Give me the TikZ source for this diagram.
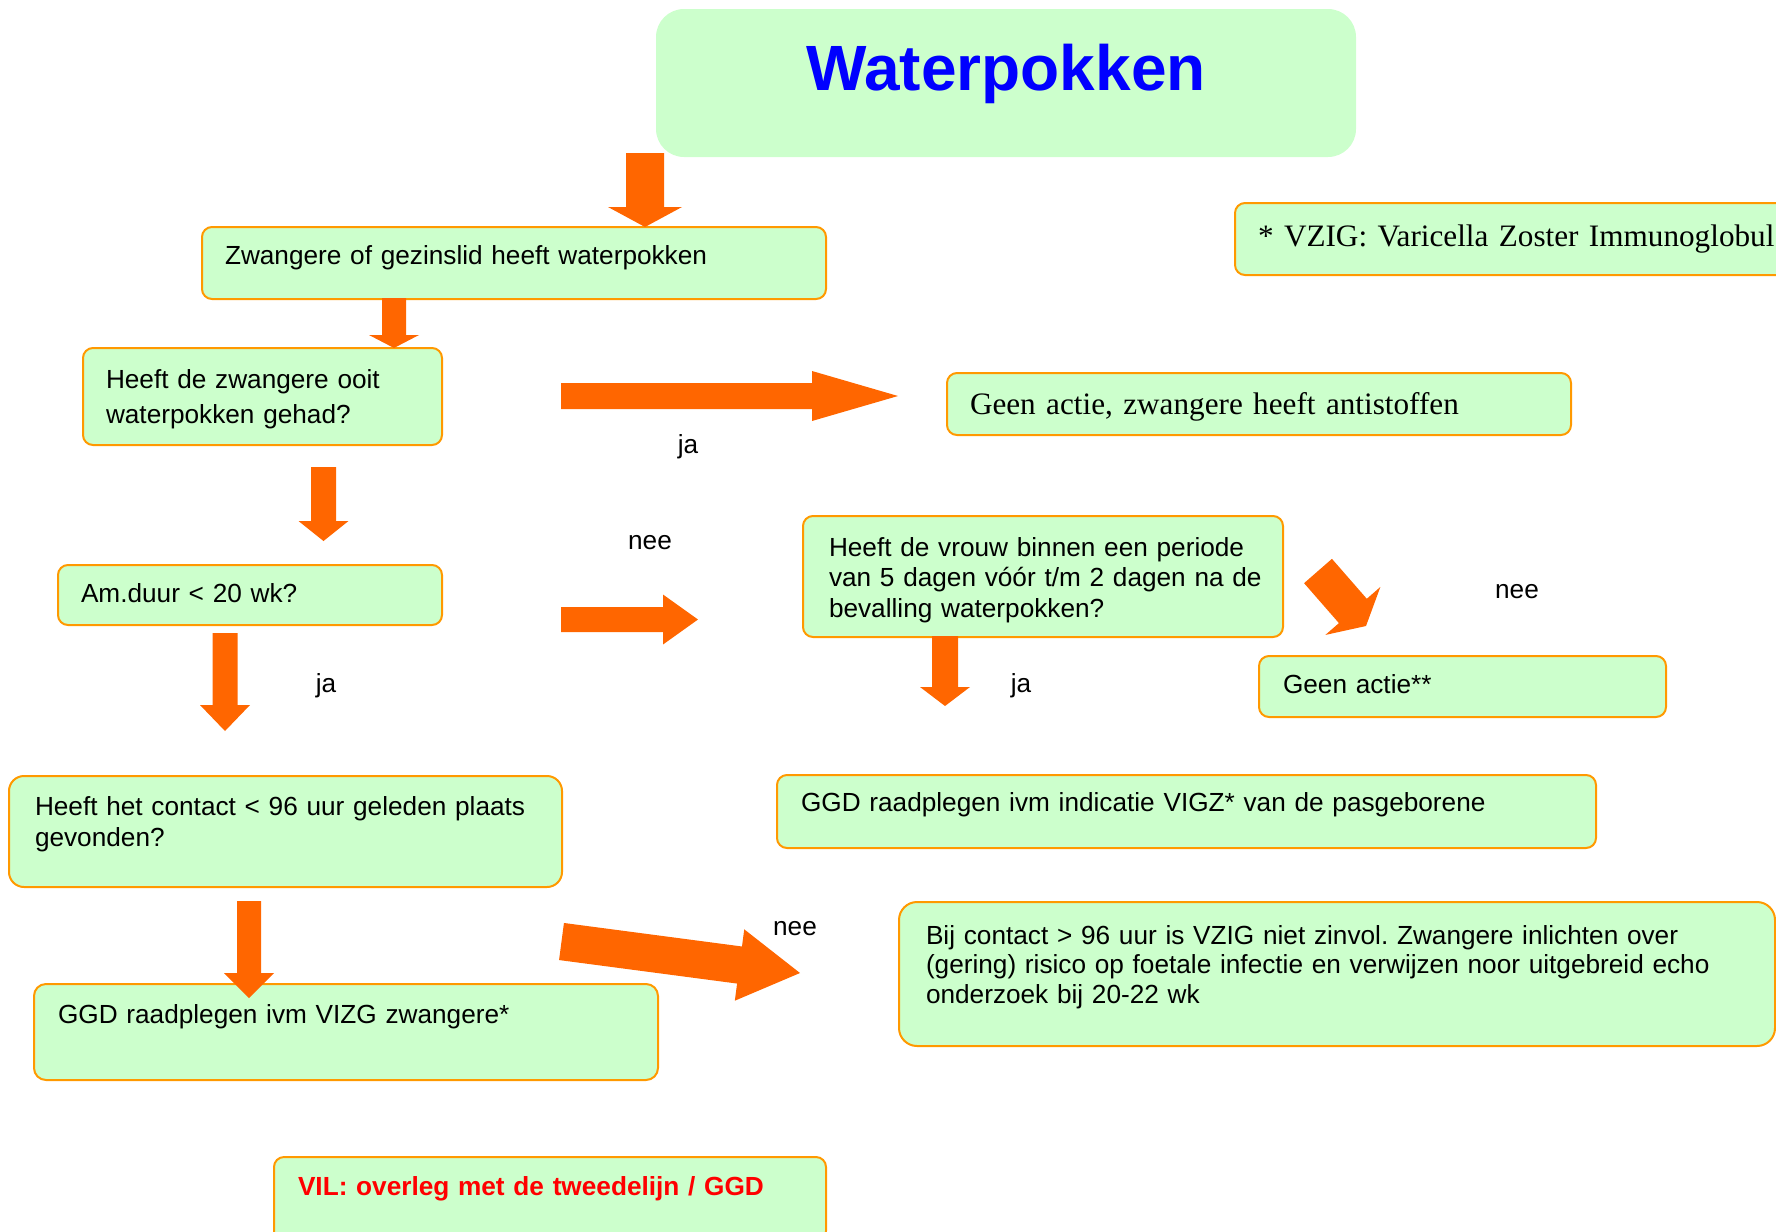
\documentclass[tikz,border=0pt]{standalone}
\usepackage{fontspec}
\setmainfont{Liberation Sans}
\newfontfamily\serifface{Liberation Serif}
\usetikzlibrary{calc}
\frenchspacing
\definecolor{boxfill}{HTML}{CCFFCC}
\definecolor{boxline}{HTML}{FF9900}
\definecolor{arrowcol}{HTML}{FF6600}
\definecolor{titleblue}{HTML}{0000FF}
\definecolor{vilred}{HTML}{FF0000}
\newcommand\bodyfont[1]{\fontsize{13.1}{#1}\selectfont}
\newcommand\fatarrow[5]{%
  \path ($(#2)!#5!(#1)$) coordinate (fah);
  \fill[arrowfill] ($(#1)!#3!90:(#2)$) -- ($(fah)!#3!90:(#2)$) -- ($(fah)!#4!90:(#2)$) -- (#2)
    -- ($(fah)!#4!-90:(#2)$) -- ($(fah)!#3!-90:(#2)$) -- ($(#1)!#3!-90:(#2)$) -- cycle;}
\tikzset{
  box/.style={draw=boxline, line width=1pt, fill=boxfill, rounded corners=5pt,
    anchor=north west, inner ysep=0pt, align=left, font=\bodyfont{15.3pt}},
  lbl/.style={anchor=base, inner sep=0pt, font=\bodyfont{15.3pt}},
  arrowfill/.style={fill=arrowcol},
}
\begin{document}
\begin{tikzpicture}[x=0.5pt,y=-0.5pt]
\useasboundingbox (0,0) rectangle (1776,1231);
\clip (0,0) rectangle (1776,1231);

% title
\node[box, draw=none, rounded corners=14pt, align=center, text width=350pt, inner xsep=0pt,
  text height=40.5pt, text depth=33.5pt, text=titleblue,
  font=\fontsize{32}{38}\selectfont\bfseries] (title) at (655,8) {Waterpokken};

\node[box, text width=289pt, inner xsep=11.5pt, text height=18.5pt, text depth=17.5pt]
  (zbox) at (201,226) {Zwangere of gezinslid heeft waterpokken};

\node[box, text width=156.5pt, inner xsep=11.5pt, text height=20pt, text depth=28.5pt,
  font=\bodyfont{17.5pt}] (hbox) at (82,347)
  {\mbox{Heeft de zwangere ooit}\\\mbox{waterpokken gehad?}};

\node[box, text width=289pt, inner xsep=11.5pt, text height=20.5pt, text depth=10.5pt,
  font=\serifface\fontsize{15.6}{19}\selectfont] (anti) at (946,372)
  {Geen actie, zwangere heeft antistoffen};

\node[box, text width=300pt, inner xsep=11.5pt, text height=21.5pt, text depth=14.5pt,
  font=\serifface\fontsize{15.6}{19}\selectfont] (vzig) at (1234,202)
  {\mbox{* VZIG: Varicella Zoster Immunoglobul}};

\node[box, text width=169pt, inner xsep=11.5pt, text height=18.5pt, text depth=11.5pt]
  (ambox) at (57,564) {Am.duur < 20 wk?};

\node[box, text width=214pt, inner xsep=13pt, text height=20pt, text depth=40.5pt,
  font=\bodyfont{15.25pt}] (vrouw) at (802,515)
  {\mbox{Heeft de vrouw binnen een periode}\\\mbox{van 5 dagen vóór t/m 2 dagen na de}\\\mbox{bevalling waterpokken?}};

\node[box, text width=179.5pt, inner xsep=12pt, text height=18.5pt, text depth=12pt]
  (geen) at (1258,655) {Geen actie**};

\node[box, rounded corners=7.5pt, text width=250.5pt, inner xsep=13pt, text height=19.5pt, text depth=36pt,
  font=\bodyfont{15.5pt}] (contact) at (8,775)
  {\mbox{Heeft het contact < 96 uur geleden plaats}\\\mbox{gevonden?}};

\node[box, text width=385.5pt, inner xsep=12pt, text height=18pt, text depth=18.5pt]
  (ggdind) at (776,774) {GGD raadplegen ivm indicatie VIGZ* van de pasgeborene};

\node[box, rounded corners=6pt, text width=288pt, inner xsep=12pt, text height=19.5pt, text depth=28.5pt]
  (ggdvizg) at (33,983) {GGD raadplegen ivm VIZG zwangere*};

\node[box, rounded corners=9pt, text width=411pt, inner xsep=13.5pt, text height=21pt, text depth=51pt,
  font=\bodyfont{14.75pt}] (bij) at (898,901)
  {\mbox{Bij contact > 96 uur is VZIG niet zinvol. Zwangere inlichten over}\\\mbox{(gering) risico op foetale infectie en verwijzen noor uitgebreid echo}\\\mbox{onderzoek bij 20-22 wk}};

\node[box, text width=252pt, inner xsep=12pt, text height=19pt, text depth=23pt,
  text=vilred, font=\bodyfont{15.3pt}\bfseries] (vil) at (273,1156)
  {VIL: overleg met de tweedelijn / GGD};

% labels
\node[lbl] (l1) at (688,453) {ja};
\node[lbl] (l2) at (650,549) {nee};
\node[lbl] (l3) at (326,692) {ja};
\node[lbl] (l4) at (1517,598) {nee};
\node[lbl] (l5) at (1021,692) {ja};
\node[lbl] (l6) at (795,935) {nee};

% block arrows
\coordinate (a1s) at (645,153);   \coordinate (a1e) at (645,227);
\coordinate (a2s) at (394,298);   \coordinate (a2e) at (394,348);
\coordinate (a3s) at (561,396);   \coordinate (a3e) at (898,396);
\coordinate (a4s) at (323.5,467); \coordinate (a4e) at (323.5,541);
\coordinate (a5s) at (561,619.5); \coordinate (a5e) at (698,619.5);
\coordinate (a6s) at (225,633);   \coordinate (a6e) at (225,731);
\coordinate (a7s) at (945,636);   \coordinate (a7e) at (945,706);
\coordinate (a8s) at (1318,571);  \coordinate (a8e) at (1366,626);
\coordinate (a9s) at (249,901);   \coordinate (a9e) at (249,998);
\coordinate (a10s) at (561.5,941.5); \coordinate (a10e) at (800,973);

\fatarrow{a1s}{a1e}{9.5pt}{18.5pt}{10pt}
\fatarrow{a2s}{a2e}{6pt}{12.5pt}{6.5pt}
\fatarrow{a3s}{a3e}{6.5pt}{12.5pt}{43pt}
\fatarrow{a4s}{a4e}{6.25pt}{12.5pt}{10pt}
\fatarrow{a5s}{a5e}{6.25pt}{12.5pt}{17.5pt}
\fatarrow{a6s}{a6e}{6.25pt}{12.5pt}{13pt}
\fatarrow{a7s}{a7e}{6.5pt}{12.5pt}{9.5pt}
\fatarrow{a8s}{a8e}{9.25pt}{18.25pt}{10pt}
\fatarrow{a9s}{a9e}{6pt}{12.5pt}{12.5pt}
\fatarrow{a10s}{a10e}{9.35pt}{18pt}{30.5pt}
\end{tikzpicture}
\end{document}
